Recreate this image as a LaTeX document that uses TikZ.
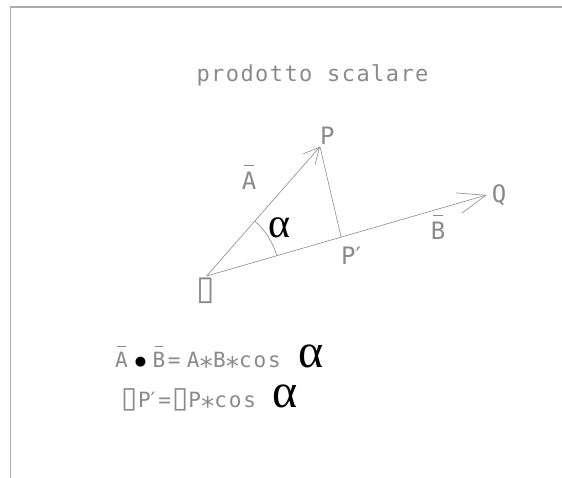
\documentclass[tikz,border=0pt]{standalone}
\usepackage{fontspec}
\usepackage{tikz}
\usetikzlibrary{arrows.meta,calc,positioning}
\setmainfont{DejaVu Sans Mono}
\newfontfamily\simboli{DejaVu Sans}
\newfontfamily\greco{Liberation Serif}
\definecolor{grigio}{HTML}{8A8A8A}
\definecolor{cornice}{HTML}{ABABAB}
\newcommand{\sbarra}[1]{\ooalign{#1\cr\hidewidth\rule[1.0em]{0.4em}{0.6pt}\hidewidth\cr}}
\newcommand{\alfa}[1][42]{{\color{black}\greco\fontsize{#1}{#1}\selectfont α}}
\newcommand{\scatola}{{\simboli\scalebox{1.4}{▯}}}
\newcommand{\punto}{\raisebox{0.1em}{\color{black}\simboli\fontsize{13}{13}\selectfont ●}}
\newcommand{\per}{\makebox[0.64em]{\raisebox{-0.12em}{\scalebox{1.25}{∗}}}}
\newcommand{\primo}{{\simboli ′}}
\newcommand{\coseno}{{\addfontfeature{LetterSpace=9}cos}}

\begin{document}
\begin{tikzpicture}[
  x=1pt, y=-1pt,
  linea/.style={draw=grigio,line width=0.6pt},
  vettore/.style={linea,-{Straight Barb[length=16pt,width=16pt]}},
  vettorelungo/.style={linea,-{Straight Barb[length=28pt,width=21pt]}},
  etichetta/.style={text=grigio,inner sep=0pt,font=\fontsize{24}{24}\selectfont},
  formula/.style={text=grigio,inner sep=0pt,anchor=base west,font=\fontsize{21}{21}\selectfont}
]
  \useasboundingbox (0,0) rectangle (562,478);
  \draw[cornice,line width=1.5pt] (10.5,478) -- (10.5,7) -- (562,7);
  \node[etichetta,anchor=base,font=\fontsize{22}{22}\selectfont\addfontfeature{LetterSpace=6.5}]
    (titolo) at (312.5,81.7) {prodotto scalare};

  \coordinate (O) at (206.7,276);
  \coordinate (P) at (320,146.7);
  \coordinate (Q) at (486.7,195);
  \coordinate (Pp) at ($(O)!0.48!(Q)$);
  \draw[vettore] (O) -- (P);
  \draw[vettorelungo] (O) -- (Q);
  \draw[linea] (P) -- (Pp);
  \draw[linea] let \p1=($(Q)-(O)$), \p2=($(P)-(O)$),
    \n1={atan2(\y1,\x1)}, \n2={atan2(\y2,\x2)} in
    ($(O)!73pt!(Q)$) arc[start angle=\n1,end angle=\n2,radius=73pt];

  \node[etichetta,above right=1.5pt and 0pt of P] (lblP) {P};
  \node[etichetta,right=5pt of Q] (lblQ) {Q};
  \node[etichetta,anchor=base] (lblA) at (249,190) {\sbarra{A}};
  \node[etichetta,anchor=base] (lblB) at (438,240) {\sbarra{B}};
  \node[etichetta,anchor=base] (lblPp) at (351,265) {P\primo};
  \node[etichetta,anchor=base] (lblO) at (205.5,299) {\scatola};
  \node[inner sep=0pt,anchor=base] (angolo) at (279.5,238) {\alfa};

  \node[formula] (prodotto) at (115,367.7)
    {\sbarra{A}\kern7pt\punto\kern6.5pt\sbarra{B}\kern2.5pt=\kern6.5pt A\per B\per\coseno\kern18pt\alfa[48]};
  \node[formula] (proiezione) at (121.7,407.7)
    {\scatola P\primo\kern3pt=\kern1pt\scatola P\per\coseno\kern16pt\alfa[48]};
\end{tikzpicture}
\end{document}
